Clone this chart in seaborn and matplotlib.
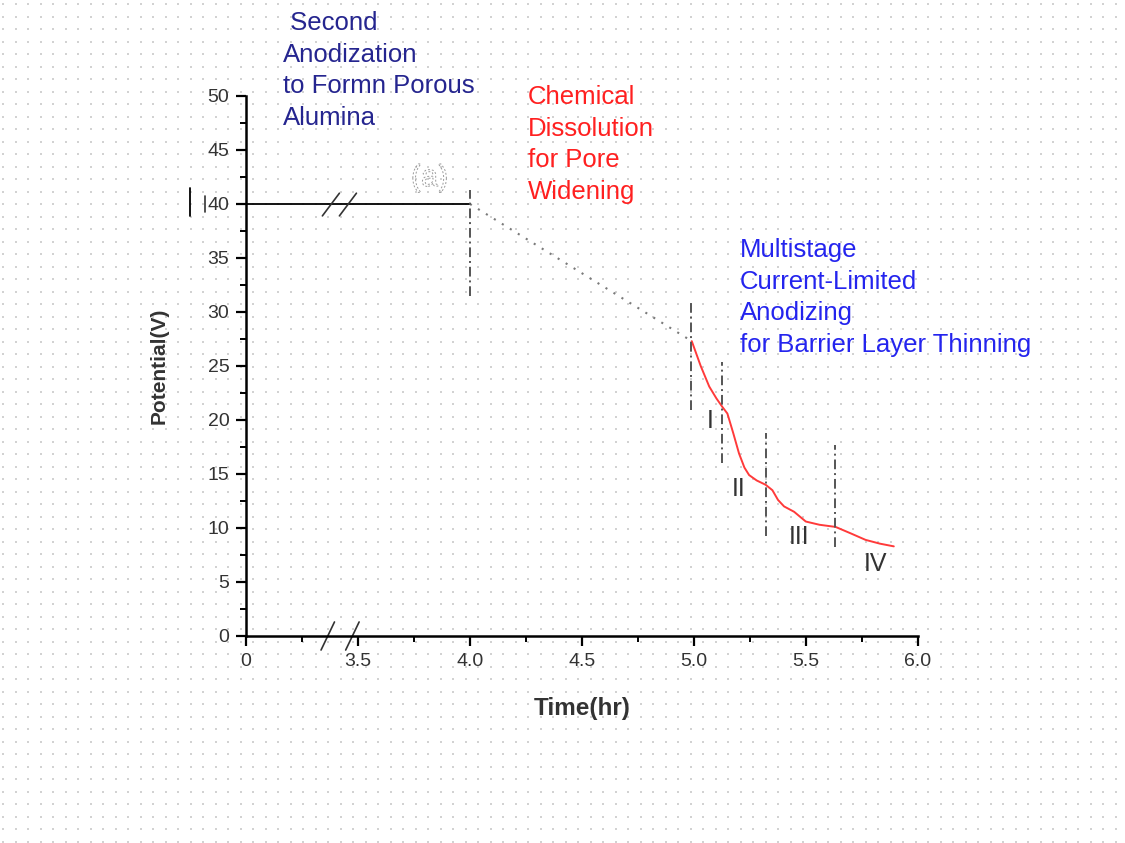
import numpy as np
import pandas as pd
import matplotlib
matplotlib.use("Agg")
import matplotlib.pyplot as plt
import matplotlib.patheffects as pe
from matplotlib.lines import Line2D
import seaborn as sns

# ---------------- data ----------------
hold_time = [3.0, 4.0]            # 3.0 on the axis stands for "0" (broken axis)
hold_v = [40.0, 40.0]

dissolve_time = [4.0, 4.99]
dissolve_v = [40.0, 27.3]

curve_time = [4.99, 5.03, 5.068, 5.10, 5.127, 5.149, 5.175, 5.201, 5.225, 5.246,
              5.28, 5.32, 5.35, 5.375, 5.402, 5.447, 5.499, 5.56, 5.632, 5.70,
              5.766, 5.83, 5.892]
curve_v = [27.3, 25.0, 23.1, 22.0, 21.2, 20.6, 18.8, 16.9, 15.6, 14.9,
           14.4, 14.0, 13.5, 12.6, 12.0, 11.5, 10.6, 10.3, 10.1, 9.5,
           8.9, 8.55, 8.3]

stage_x = [4.0, 4.985, 5.126, 5.32, 5.628]
stage_ymin = [31.5, 20.9, 16.0, 9.3, 8.2]
stage_ymax = [41.3, 30.8, 25.4, 18.8, 17.7]

stage_labels = ["I", "II", "III", "IV"]
stage_label_x = [5.071, 5.198, 5.469, 5.81]
stage_label_y = [19.9, 13.6, 9.2, 6.7]

xtick_pos = [3.0, 3.5, 4.0, 4.5, 5.0, 5.5, 6.0]
xtick_labels = ["0", "3.5", "4.0", "4.5", "5.0", "5.5", "6.0"]
ytick_pos = [0, 5, 10, 15, 20, 25, 30, 35, 40, 45, 50]

break_x_axis = [3.365, 3.475]
break_x_line = [3.379, 3.455]

# ---------------- figure ----------------
sns.set_style("ticks")
plt.rcParams["font.family"] = ["Liberation Sans", "DejaVu Sans"]

W, H = 1125, 843
fig = plt.figure(figsize=(W / 100, H / 100), dpi=100)
fig.patch.set_facecolor("white")

def fx(px):
    return px / W

def fy(py):
    return 1 - py / H

# dotted background texture
bg = fig.add_axes([0, 0, 1, 1], zorder=-10)
gx, gy = np.meshgrid(np.arange(3, W, 12.5), np.arange(4, H, 12.5))
bg.scatter(gx.ravel(), gy.ravel(), s=0.6, color="#d2d2d2", marker="s", linewidths=0)
bg.set_xlim(0, W)
bg.set_ylim(H, 0)
bg.axis("off")

ax = fig.add_axes([fx(246), fy(636), fx(918) - fx(246), (636 - 96) / H])
ax.patch.set_alpha(0)

df_hold = pd.DataFrame({"t": hold_time, "v": hold_v})
df_curve = pd.DataFrame({"t": curve_time, "v": curve_v})
df_diss = pd.DataFrame({"t": dissolve_time, "v": dissolve_v})

sns.lineplot(data=df_hold, x="t", y="v", ax=ax, color="black", lw=1.3, sort=False)
sns.lineplot(data=df_diss, x="t", y="v", ax=ax, color="#7a7a7a", lw=1.5,
             linestyle=(0, (1, 3.5)), sort=False)
sns.lineplot(data=df_curve, x="t", y="v", ax=ax, color="#ff3a3a", lw=1.4, sort=False)

for x, y0, y1 in zip(stage_x, stage_ymin, stage_ymax):
    ax.plot([x, x], [y0, y1], color="#555555", lw=1.4, linestyle=(0, (5, 2, 1, 2)))

for lab, x, y in zip(stage_labels, stage_label_x, stage_label_y):
    ax.text(x, y, lab, fontsize=18, color="#333333", ha="center", va="center")

# break marks
for bx in break_x_axis:
    ax.plot([bx - 0.03, bx + 0.03], [-1.3, 1.3], color="#333333", lw=1.2, clip_on=False)
for bx in break_x_line:
    ax.plot([bx - 0.038, bx + 0.038], [38.9, 41.0], color="#333333", lw=1.2, clip_on=False)

# faint "(a)" label
ax.text(3.82, 42.4, "(a)", fontsize=22, color="white", ha="center", va="center",
        path_effects=[pe.PathPatchEffect(edgecolor="#999999", facecolor="none",
                                         linestyle=(0, (2, 2)), linewidth=0.7)])

ax.set_xlim(3.0, 6.0)
ax.set_ylim(0, 50)
ax.set_xticks(xtick_pos)
ax.set_xticklabels(xtick_labels)
ax.set_yticks(ytick_pos)
ax.set_xticks(np.arange(3.25, 6.0, 0.5), minor=True)
ax.set_yticks(np.arange(2.5, 50, 5), minor=True)
ax.tick_params(axis="both", which="major", direction="out", length=7, width=1.6,
               labelsize=14, labelcolor="#333333", color="black", pad=5)
ax.tick_params(axis="both", which="minor", direction="out", length=4, width=1.4, color="black")
for s in ["top", "right"]:
    ax.spines[s].set_visible(False)
for s in ["left", "bottom"]:
    ax.spines[s].set_linewidth(1.8)
    ax.spines[s].set_color("black")

ax.set_xlabel("Time(hr)", fontsize=17.5, fontweight="bold", color="#333333", labelpad=20)
ax.set_ylabel("Potential(V)", fontsize=15, fontweight="bold", color="#333333", labelpad=28)

# annotations
txt_kw = dict(fontsize=18.5, ha="left", va="top", linespacing=1.40)
fig.text(fx(283), fy(11), " Second\nAnodization\nto Formn Porous\nAlumina",
         color="#25258f", **txt_kw)
fig.text(fx(528), fy(85), "Chemical\nDissolution\nfor Pore\nWidening",
         color="#ff2020", **txt_kw)
fig.text(fx(740), fy(238), "Multistage\nCurrent-Limited\nAnodizing\nfor Barrier Layer Thinning",
         color="#2424ee", **txt_kw)

# stray marks near the 40 label
fig.add_artist(Line2D([fx(190), fx(190)], [fy(188), fy(216)], color="black", lw=1.3))
fig.add_artist(Line2D([fx(205), fx(205)], [fy(196), fy(212)], color="#333333", lw=1.2))

fig.savefig("out.png", dpi=100)
